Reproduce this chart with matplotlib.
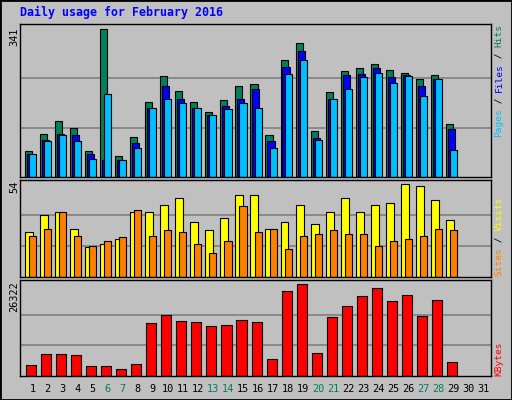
import matplotlib
matplotlib.use("Agg")
import matplotlib.pyplot as plt
from matplotlib.patches import Rectangle
import numpy as np

days = list(range(1, 32))
hits = [61,100,130,114,61,341,49,93,174,232,198,172,149,177,209,214,96,269,309,105,195,244,251,260,246,241,225,235,123]
files = [52,86,100,96,52,40,40,79,160,211,181,160,142,163,181,204,82,253,290,91,181,235,237,251,230,235,209,225,110]
pages = [52,84,96,84,42,191,40,66,160,181,170,160,142,156,170,160,66,237,269,86,179,202,230,241,216,232,188,225,63]
visits = [26,36,38,28,17,19,22,38,38,42,46,32,27,34,48,48,28,32,42,31,38,46,38,42,43,54,53,45,33]
sites = [24,28,38,24,18,21,23,39,24,27,26,19,14,21,41,26,28,16,24,25,27,25,25,18,21,22,24,28,27]
kbytes = [3266,6437,6437,6148,2978,2978,2114,3555,15083,17389,15659,15371,14218,14507,15948,15371,4996,24306,26322,6725,16812,19983,22865,25170,21424,23153,17100,21712,4131]
weekends = [6,7,13,14,20,21,27,28]
title = "Daily usage for February 2016"

W, H = 512, 400
fig = plt.figure(figsize=(W/100, H/100), dpi=100, facecolor="#C0C0C0")
fig.patches.append(Rectangle((0, 0), 1, 1, transform=fig.transFigure, fill=False,
                             edgecolor="black", linewidth=2))
mono = "DejaVu Sans Mono"

def ax_px(x0, y0, x1, y1):
    return fig.add_axes([x0/W, 1-y1/H, (x1-x0)/W, (y1-y0)/H])

def P(x, y):
    return (x/W, 1-y/H)

GREEN, BLUE, CYAN = "#00805C", "#0000FF", "#00BFFF"
YEL, ORA, RED = "#FFFF00", "#FF8000", "#FF0000"
XL = (0.17, 31.5)
n = len(hits)
d = np.arange(1, n+1)

def setup(ax, ymax, top, grid):
    ax.set_facecolor("#C0C0C0")
    ax.set_xlim(*XL)
    ax.set_ylim(0, top)
    for g in grid:
        ax.axhline(g, color="#808080", lw=1.2, zorder=0)
    ax.set_xticks([]); ax.set_yticks([])
    for s in ax.spines.values():
        s.set_color("black"); s.set_linewidth(1)

w = 0.47
ax1 = ax_px(20, 24, 491, 177)
setup(ax1, 341, 353, [341/3, 2*341/3])
kw = dict(width=w, align="edge", edgecolor="black", linewidth=0.8)
ax1.bar(d-0.5, hits, color=GREEN, **kw)
ax1.bar(d-0.37, files, color=BLUE, **kw)
ax1.bar(d-0.23, pages, color=CYAN, **kw)

ax2 = ax_px(20, 180, 491, 276.5)
setup(ax2, 54, 56.5, [18, 36])
ax2.bar(d-0.5, visits, color=YEL, width=0.53, align="edge", edgecolor="black", linewidth=0.8)
ax2.bar(d-0.23, sites, color=ORA, **kw)

ax3 = ax_px(20, 280, 491, 376)
setup(ax3, 26322, 27560, [26322/3, 2*26322/3])
ax3.bar(d-0.43, kbytes, color=RED, width=0.67, align="edge", edgecolor="black", linewidth=0.8)

fig.text(*P(20, 16), title, color="#0000FF", fontsize=8.4, fontweight="bold",
         family=mono, va="baseline", ha="left")

fs = 6.8
for lab, ytop in [("341", 28), ("54", 181), ("26322", 281)]:
    fig.text(*P(14, ytop), lab, rotation=90, fontsize=fs+0.6, family=mono,
             ha="center", va="top")

cw = 5.6
def right_label(parts, ybot):
    y = ybot
    for txt, col in parts:
        fig.text(*P(499, y), txt, rotation=90, fontsize=fs, family=mono,
                 color=col, ha="center", va="bottom")
        y -= len(txt)*cw

right_label([("Pages", CYAN), (" / ", "black"), ("Files", BLUE), (" / ", "black"), ("Hits", GREEN)], 137)
right_label([("Sites", ORA), (" / ", "black"), ("Visits", YEL)], 276)
right_label([("KBytes", RED)], 376)

for day in days:
    xf = 20 + (day - XL[0]) / (XL[1] - XL[0]) * 471
    fig.text(*P(xf, 389), str(day), fontsize=fs+0.6, family=mono,
             color=GREEN if day in weekends else "black", ha="center", va="center")

fig.savefig("out.png", dpi=100, facecolor=fig.get_facecolor())
